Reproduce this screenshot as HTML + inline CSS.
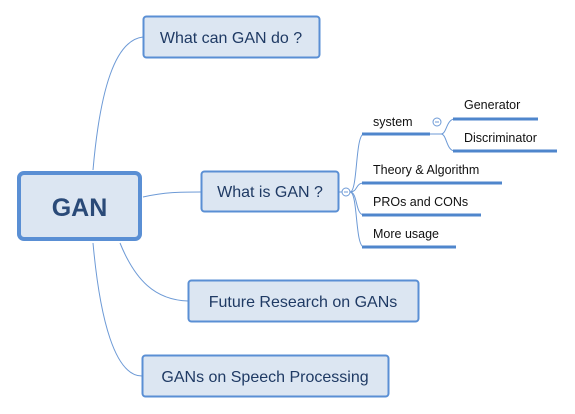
<!DOCTYPE html>
<html><head><meta charset="utf-8"><style>
html,body{margin:0;padding:0;background:#fff;}
svg{display:block;font-family:"Liberation Sans","DejaVu Sans",sans-serif;}
</style></head><body>
<svg width="575" height="414" viewBox="0 0 575 414" xmlns="http://www.w3.org/2000/svg">
<g fill="none" stroke="#6d9ad6" stroke-width="1">
<path d="M93,170 C100,90 115,40 143,37"/>
<path d="M143,197 C165,192 180,192 201,192"/>
<path d="M120,243 C135,280 155,300 188,301"/>
<path d="M93,243 C100,320 115,376 142,376"/>
<path d="M339,192 L342,192"/>
<path d="M350,192 C358,192 355,134 364,134"/>
<path d="M350,192 C358,192 355,183 364,183"/>
<path d="M350,192 C358,192 355,215 364,215"/>
<path d="M350,192 C358,192 355,247 364,247"/>
<path d="M430,134 L441,134"/>
<path d="M441,134 C447,134 446,119 455,119"/>
<path d="M441,134 C447,134 446,151 455,151"/>
<circle cx="346" cy="192" r="4"/>
<circle cx="437" cy="122" r="4"/>
<path d="M344,192 h4 M435,122 h4"/>
</g>
<g stroke="#4f86cc" stroke-width="3">
<line x1="362" y1="134" x2="430" y2="134"/>
<line x1="453" y1="119" x2="538" y2="119"/>
<line x1="453" y1="151" x2="557" y2="151"/>
<line x1="362" y1="183" x2="502" y2="183"/>
<line x1="362" y1="215" x2="481" y2="215"/>
<line x1="362" y1="247" x2="456" y2="247"/>
</g>
<g fill="#dce6f2" stroke="#5a8fd4">
<rect x="19" y="173" width="121" height="66" rx="5" stroke-width="4"/>
<rect x="143.5" y="16.5" width="176" height="41" rx="3" stroke-width="2"/>
<rect x="201.5" y="171.5" width="137" height="40" rx="3" stroke-width="2"/>
<rect x="188.5" y="280.5" width="230" height="41" rx="3" stroke-width="2"/>
<rect x="142.5" y="355.5" width="246" height="41" rx="3" stroke-width="2"/>
</g>
<g fill="#1f3a64" font-size="16" text-anchor="middle">
<text x="79.5" y="216" font-size="25" font-weight="bold" fill="#2a4a78">GAN</text>
<text x="231" y="43">What can GAN do ?</text>
<text x="270" y="197">What is GAN ?</text>
<text x="303" y="307">Future Research on GANs</text>
<text x="265" y="382">GANs on Speech Processing</text>
</g>
<g fill="#111" font-size="12.5">
<text x="373" y="126">system</text>
<text x="464" y="109">Generator</text>
<text x="464" y="142">Discriminator</text>
<text x="373" y="174">Theory &amp; Algorithm</text>
<text x="373" y="206">PROs and CONs</text>
<text x="373" y="238">More usage</text>
</g>
</svg>
</body></html>
